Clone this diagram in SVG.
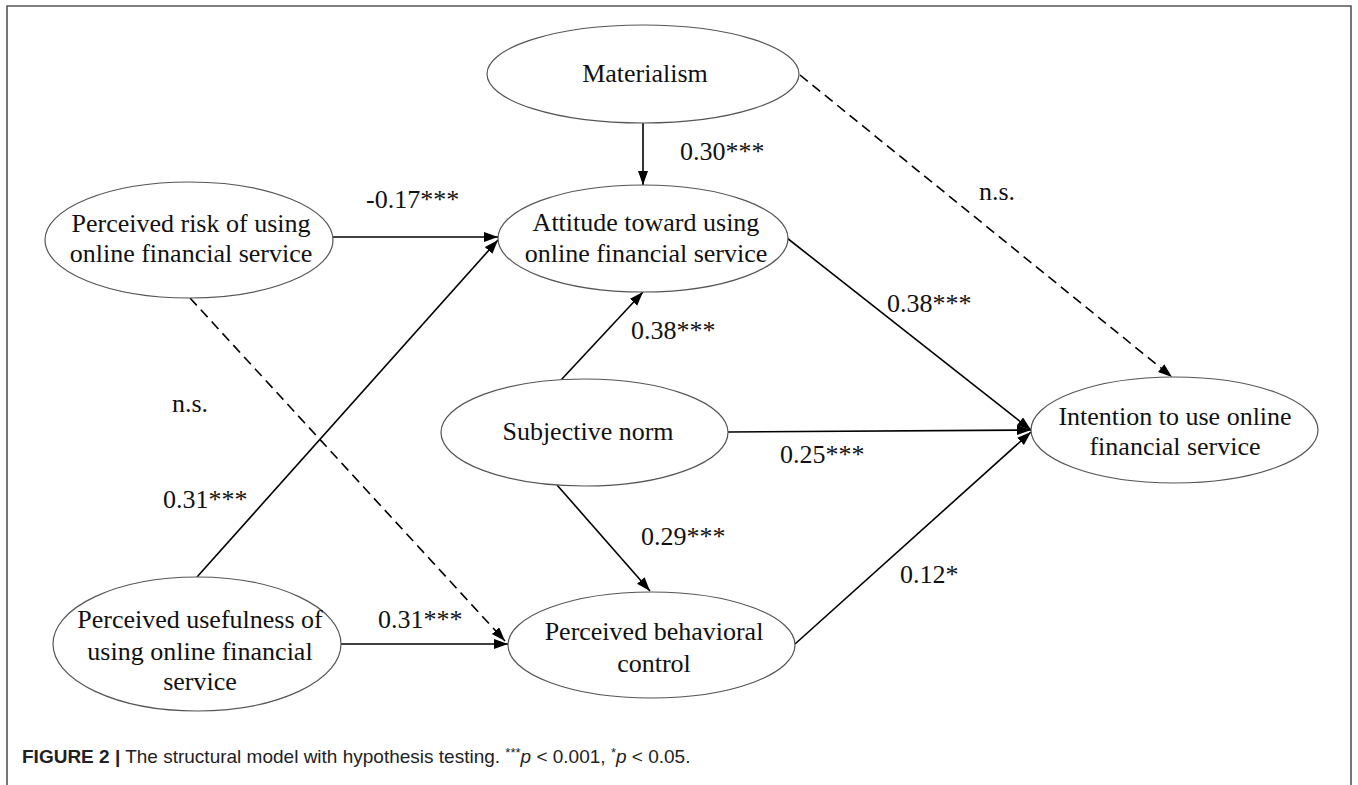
<svg xmlns="http://www.w3.org/2000/svg" width="1358" height="785" viewBox="0 0 1358 785">
<style>
.node ellipse{fill:#fff;stroke:#555;stroke-width:1.2}
.t{font-family:"Liberation Serif","Times New Roman",serif;font-size:26px;fill:#111;text-anchor:middle}
.lbl{font-family:"Liberation Serif","Times New Roman",serif;font-size:26px;fill:#111}
.c{stroke:#000;stroke-width:1.6;fill:none}
.d{stroke-dasharray:10 6}
.cap{font-family:"Liberation Sans",Arial,sans-serif;font-size:19px;fill:#222}
</style>
<defs>
<marker id="ah" markerUnits="userSpaceOnUse" markerWidth="16" markerHeight="12" refX="14" refY="5" orient="auto">
<path d="M0,0 L14,5 L0,10 z" fill="#000"/>
</marker>
</defs>
<rect width="1358" height="785" fill="#fff"/>
<path d="M7,785 V6 H1351 V785" fill="none" stroke="#555" stroke-width="1.6"/>
<g id="connectors">
<line class="c" x1="643" y1="123" x2="643" y2="185" marker-end="url(#ah)"/>
<line class="c" x1="333" y1="237" x2="498" y2="237" marker-end="url(#ah)"/>
<line class="c" x1="197" y1="577" x2="498" y2="240" marker-end="url(#ah)"/>
<line class="c" x1="561" y1="380" x2="643" y2="292" marker-end="url(#ah)"/>
<line class="c" x1="787" y1="238" x2="1031" y2="430" marker-end="url(#ah)"/>
<line class="c" x1="728" y1="432" x2="1031" y2="430" marker-end="url(#ah)"/>
<line class="c" x1="795" y1="644" x2="1031" y2="432" marker-end="url(#ah)"/>
<line class="c d" x1="800" y1="75" x2="1172" y2="377" marker-end="url(#ah)"/>
<line class="c d" x1="190" y1="298" x2="505" y2="641" marker-end="url(#ah)"/>
<line class="c" x1="341" y1="644" x2="508" y2="644" marker-end="url(#ah)"/>
<line class="c" x1="557" y1="485" x2="650" y2="591" marker-end="url(#ah)"/>
</g>
<g id="labels">
<text class="lbl" x="680" y="160">0.30***</text>
<text class="lbl" x="366" y="208">-0.17***</text>
<text class="lbl" x="979" y="200">n.s.</text>
<text class="lbl" x="887" y="312">0.38***</text>
<text class="lbl" x="631" y="339">0.38***</text>
<text class="lbl" x="172" y="412">n.s.</text>
<text class="lbl" x="780" y="463">0.25***</text>
<text class="lbl" x="163" y="508">0.31***</text>
<text class="lbl" x="641" y="545">0.29***</text>
<text class="lbl" x="900" y="583">0.12*</text>
<text class="lbl" x="378" y="628">0.31***</text>
</g>
<g id="materialism" class="node">
<ellipse cx="643" cy="74" rx="156" ry="49"/>
<text class="t" x="645" y="82">Materialism</text>
</g>
<g id="attitude" class="node">
<ellipse cx="643" cy="238.5" rx="145" ry="53.5"/>
<text class="t" x="646" y="231">Attitude toward using</text>
<text class="t" x="646" y="262">online financial service</text>
</g>
<g id="risk" class="node">
<ellipse cx="189" cy="240" rx="144" ry="58"/>
<text class="t" x="191" y="232">Perceived risk of using</text>
<text class="t" x="191" y="262">online financial service</text>
</g>
<g id="subjective" class="node">
<ellipse cx="584.5" cy="432.5" rx="143.5" ry="53.5"/>
<text class="t" x="588" y="440">Subjective norm</text>
</g>
<g id="usefulness" class="node">
<ellipse cx="197" cy="644" rx="144" ry="67"/>
<text class="t" x="200" y="628">Perceived usefulness of</text>
<text class="t" x="200" y="660">using online financial</text>
<text class="t" x="200" y="690">service</text>
</g>
<g id="pbc" class="node">
<ellipse cx="651.5" cy="645" rx="143.5" ry="53"/>
<text class="t" x="654" y="640">Perceived behavioral</text>
<text class="t" x="654" y="672">control</text>
</g>
<g id="intention" class="node">
<ellipse cx="1174.5" cy="430" rx="143.5" ry="53"/>
<text class="t" x="1175" y="425">Intention to use online</text>
<text class="t" x="1175" y="455">financial service</text>
</g>
<text class="cap" x="22" y="763"><tspan font-weight="bold">FIGURE 2 |</tspan> The structural model with hypothesis testing. <tspan font-size="13" dy="-6">***</tspan><tspan dy="6" font-style="italic">p</tspan> &lt; 0.001, <tspan font-size="13" dy="-6">*</tspan><tspan dy="6" font-style="italic">p</tspan> &lt; 0.05.</text>
</svg>
